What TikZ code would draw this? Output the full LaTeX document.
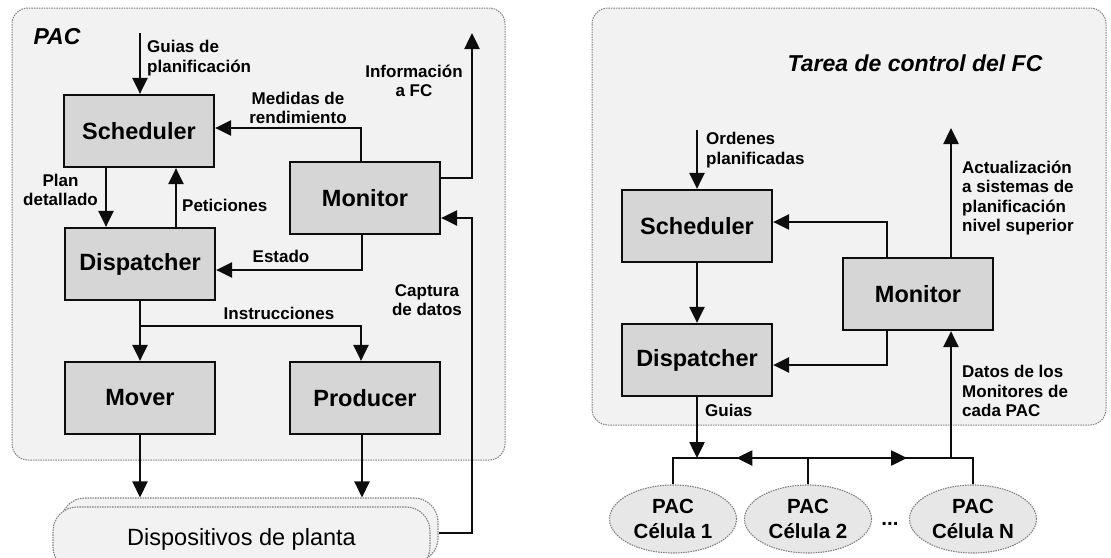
\documentclass[tikz,border=0pt]{standalone}
\usepackage{fontspec}
\setmainfont{Liberation Sans}
\usetikzlibrary{arrows.meta,calc,shapes.geometric}
\definecolor{boxfill}{gray}{0.84}
\definecolor{panelfill}{gray}{0.95}
\definecolor{panelline}{gray}{0.5}
\definecolor{inkline}{gray}{0.05}

\tikzset{
  blockbox/.style={draw=inkline, line width=2.2pt, fill=boxfill, minimum width=150pt, minimum height=72pt, inner sep=0pt, font=\fontsize{23.5}{26}\selectfont\bfseries},
  panelbox/.style={draw=panelline, line width=1pt, dash pattern=on 1.5pt off 1pt, fill=panelfill, rounded corners=16pt},
  devicebox/.style={draw=panelline, line width=1.1pt, dash pattern=on 1.5pt off 1pt, fill=panelfill, rounded corners=24pt, minimum width=377pt, minimum height=64pt, inner sep=0pt, font=\fontsize{23.5}{26}\selectfont},
  cellnode/.style={ellipse, draw=panelline, line width=1.1pt, dash pattern=on 1.5pt off 1pt, fill=boxfill!60, minimum width=127pt, minimum height=68pt, inner sep=0pt, align=center, font=\fontsize{20.5}{25}\selectfont\bfseries},
  flowlabel/.style={inner sep=0pt, font=\fontsize{17}{19.5}\selectfont\bfseries},
  titlelabel/.style={inner sep=0pt, font=\fontsize{23}{26}\selectfont\bfseries\itshape},
  flow/.style={line width=2.5pt, draw=inkline},
  flowarrow/.style={flow, -{Triangle[length=16pt,width=15pt]}}
}

\begin{document}
\begin{tikzpicture}[x=1pt,y=-1pt]
  \useasboundingbox (0,0) rectangle (1111,557);
  \clip (0,0) rectangle (1111,557);

  % panels
  \draw[panelbox] (12,8) rectangle (505,460);
  \draw[panelbox] (592,8) rectangle (1106,425);
  \node[titlelabel] (pactitle) at (57,37) {PAC};
  \node[titlelabel] (fctitle) at (915,63) {Tarea de control del FC};

  % PAC
  \node[blockbox] (sch) at (139,131) {Scheduler};
  \node[blockbox] (dis) at (140,264) {Dispatcher};
  \node[blockbox] (mon) at (365,198) {Monitor};
  \node[blockbox] (mov) at (140,398) {Mover};
  \node[blockbox] (prd) at (365,398) {Producer};
  \node[devicebox] (devback) at (249.5,530) {};
  \node[devicebox] (dev) at (241.5,539) {Dispositivos de planta};

  \coordinate (guiastop) at (140,33);
  \coordinate (infotop) at (472,33);
  \coordinate (split) at (140,326);
  \coordinate (capstart) at ([xshift=8pt,yshift=6pt]dev.east);

  \draw[flowarrow] (guiastop) -- (guiastop |- sch.north);
  \draw[flowarrow] ([xshift=-33pt]sch.south) -- ([xshift=-33pt]sch.south |- dis.north);
  \draw[flowarrow] ([xshift=36pt]dis.north) -- ([xshift=36pt]dis.north |- sch.south);
  \draw[flowarrow] ([xshift=-4pt]mon.north) |- ([yshift=3pt]sch.east);
  \draw[flowarrow] ([xshift=-3pt]mon.south) |- ([yshift=-6pt]dis.east);
  \draw[flowarrow] ([yshift=20pt]mon.east) -| (infotop);
  \draw[flowarrow] (capstart) -- (capstart -| infotop) |- ([yshift=-20pt]mon.east);
  \draw[flowarrow] (dis.south) -- (mov.north);
  \draw[flowarrow] (split) -| ([xshift=-4pt]prd.north);
  \draw[flowarrow] (mov.south) -- (mov.south |- devback.north);
  \draw[flowarrow] ([xshift=-3pt]prd.south) -- ([xshift=-3pt]prd.south |- devback.north);

  \node[flowlabel, anchor=west, align=left] (guiaslbl) at (147,58) {Guias de\\planificación};
  \node[flowlabel, anchor=east, align=center] (planlbl) at (98,190) {Plan\\detallado};
  \node[flowlabel, anchor=west] (petlbl) at (182,205) {Peticiones};
  \node[flowlabel, align=center] (medlbl) at (298,108) {Medidas de\\rendimiento};
  \node[flowlabel] (estlbl) at (281,256) {Estado};
  \node[flowlabel, align=center] (infolbl) at (414,81) {Información\\a FC};
  \node[flowlabel, align=center] (caplbl) at (427,300) {Captura\\de datos};
  \node[flowlabel] (inslbl) at (279,313) {Instrucciones};

  % FC
  \node[blockbox] (sch2) at (697,226) {Scheduler};
  \node[blockbox] (dis2) at (697,360) {Dispatcher};
  \node[blockbox] (mon2) at (918,294) {Monitor};
  \node[cellnode] (c1) at (673,519) {PAC\\Célula 1};
  \node[cellnode] (c2) at (808,519) {PAC\\Célula 2};
  \node[cellnode] (cN) at (973,519) {PAC\\Célula N};
  \node[inner sep=0pt, font=\fontsize{20.5}{25}\selectfont\bfseries] (dots) at (890,524) {...};

  \coordinate (ordtop) at (697,130);
  \coordinate (updtop) at (951,128);
  \coordinate (busL) at (673,458);
  \coordinate (busM) at (808,458);
  \coordinate (busR) at (973,458);

  \draw[flowarrow] (ordtop) -- (sch2.north);
  \draw[flowarrow] (sch2.south) -- (dis2.north);
  \draw[flowarrow] ([xshift=-31pt]mon2.north) |- ([yshift=4pt]sch2.east);
  \draw[flowarrow] ([xshift=-31pt]mon2.south) |- ([yshift=-5pt]dis2.east);
  \draw[flowarrow] (updtop |- mon2.north) -- (updtop);
  \draw[flow] (c1.north) -- (busL) -- (busR) -- (cN.north);
  \draw[flow] (c2.north) -- (busM);
  \draw[flowarrow] (busM) -- ($(busM)!0.53!(busL)$);
  \draw[flowarrow] (busM) -- ($(busM)!0.6!(busR)$);
  \draw[flowarrow] (dis2.south) -- (dis2.south |- busL);
  \draw[flowarrow] (updtop |- busL) -- (updtop |- mon2.south);

  \node[flowlabel, anchor=west, align=left] (ordlbl) at (706,150) {Ordenes\\planificadas};
  \node[flowlabel, anchor=west, align=left] (updlbl) at (962,198) {Actualización\\a sistemas de\\planificación\\nivel superior};
  \node[flowlabel, anchor=west] (guias2lbl) at (705,410) {Guias};
  \node[flowlabel, anchor=west, align=left] (datlbl) at (962,391) {Datos de los\\Monitores de\\cada PAC};
\end{tikzpicture}
\end{document}
